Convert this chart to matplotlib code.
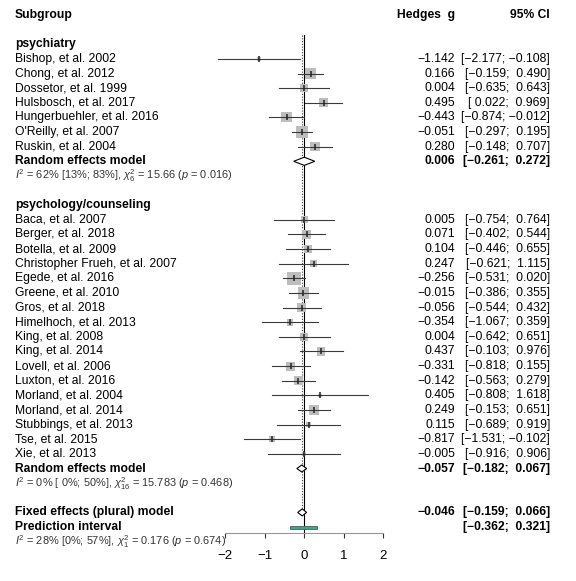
import numpy as np
import matplotlib.pyplot as plt
from matplotlib.patches import Polygon, Rectangle
from matplotlib.transforms import blended_transform_factory

plt.rcParams['font.family'] = ['Liberation Sans', 'DejaVu Sans']
plt.rcParams['mathtext.fontset'] = 'custom'
plt.rcParams['mathtext.rm'] = 'Liberation Sans'
plt.rcParams['mathtext.it'] = 'Liberation Sans:italic'

# data
psych_studies = ["Bishop, et al. 2002", "Chong, et al. 2012", "Dossetor, et al. 1999",
                 "Hulsbosch, et al. 2017", "Hungerbuehler, et al. 2016", "O'Reilly, et al. 2007",
                 "Ruskin, et al. 2004"]
psych_g = [-1.142, 0.166, 0.004, 0.495, -0.443, -0.051, 0.280]
psych_lo = [-2.177, -0.159, -0.635, 0.022, -0.874, -0.297, -0.148]
psych_hi = [-0.108, 0.490, 0.643, 0.969, -0.012, 0.195, 0.707]
psych_w = [1.1, 5.8, 3.5, 4.6, 5.8, 9.4, 5.1]

couns_studies = ["Baca, et al. 2007", "Berger, et al. 2018", "Botella, et al. 2009",
                 "Christopher Frueh, et al. 2007", "Egede, et al. 2016", "Greene, et al. 2010",
                 "Gros, et al. 2018", "Himelhoch, et al. 2013", "King, et al. 2008",
                 "King, et al. 2014", "Lovell, et al. 2006", "Luxton, et al. 2016",
                 "Morland, et al. 2004", "Morland, et al. 2014", "Stubbings, et al. 2013",
                 "Tse, et al. 2015", "Xie, et al. 2013"]
couns_g = [0.005, 0.071, 0.104, 0.247, -0.256, -0.015, -0.056, -0.354, 0.004, 0.437,
           -0.331, -0.142, 0.405, 0.249, 0.115, -0.817, -0.005]
couns_lo = [-0.754, -0.402, -0.446, -0.621, -0.531, -0.386, -0.544, -1.067, -0.642, -0.103,
            -0.818, -0.563, -0.808, -0.153, -0.689, -1.531, -0.916]
couns_hi = [0.764, 0.544, 0.655, 1.115, 0.020, 0.355, 0.432, 0.359, 0.651, 0.976,
            0.155, 0.279, 1.618, 0.651, 0.919, -0.102, 0.906]
couns_w = [2.6, 4.6, 3.5, 2.6, 10.2, 7.1, 4.6, 2.6, 3.5, 4.0, 4.6, 4.6, 0.6, 5.8, 1.8, 1.8, 1.1]

psych_re = (0.006, -0.261, 0.272)
couns_re = (-0.057, -0.182, 0.067)
fixed_all = (-0.046, -0.159, 0.066)
pred_int = (-0.362, 0.321)

psych_het = r"$I^2$ = 62% [13%; 83%], $\chi^2_6$ = 15.66 ($p$ = 0.016)"
couns_het = r"$I^2$ = 0% [ 0%; 50%], $\chi^2_{16}$ = 15.783 ($p$ = 0.468)"
all_het = r"$I^2$ = 28% [0%; 57%], $\chi^2_1$ = 0.176 ($p$ = 0.674)"

W, H = 576, 581
y0, pitch = 15, 14.63
fs = 8.7
fs_het = 7.9


def fmt(v, pad=False):
    s = f"{v:.3f}".replace("-", "\u2212")
    if pad and v >= 0:
        s = " " + s
    return s


def ci_str(lo, hi):
    return "[" + fmt(lo, True) + "; " + fmt(hi, True) + "]"


fig = plt.figure(figsize=(W / 100, H / 100), dpi=100)
ax = fig.add_axes([225 / W, 0, 158 / W, 1])
ax.set_xlim(-2, 2)
ax.set_ylim((H - y0) / pitch, -y0 / pitch)
ax.patch.set_visible(False)
for s in ['top', 'left', 'right']:
    ax.spines[s].set_visible(False)

tr = blended_transform_factory(fig.transFigure, ax.transData)


def txt(xpx, row, s, ha='left', bold=False, size=fs, color='black'):
    ax.text(xpx / W, row, s, transform=tr, ha=ha, va='center', fontsize=size,
            fontweight='bold' if bold else 'normal', color=color, clip_on=False)


# headers
txt(15, 0, "Subgroup", bold=True)
txt(455, 0, "Hedges  g", ha='right', bold=True)
txt(550, 0, "95% CI", ha='right', bold=True)

axis_row = (533 - y0) / pitch


def study_rows(start, names, g, lo, hi, w):
    rows = np.arange(start, start + len(names))
    for r, n, gi, l, h in zip(rows, names, g, lo, hi):
        txt(15, r, n)
        txt(455, r, fmt(gi), ha='right')
        txt(550, r, ci_str(l, h), ha='right')
        ax.plot([l, h], [r, r], color='#3a3a3a', lw=0.8, clip_on=False, zorder=3)
    # box side in px grows with sqrt(weight)
    side = 4.2 * np.sqrt(np.array(w)) * 0.72
    ax.scatter(g, rows, s=side ** 2, marker='s', color='#bdbdbd', linewidths=0, zorder=2,
               clip_on=False)
    ax.plot(g, rows, ls='none', marker='|', ms=4, mew=1.1, color='#222222', zorder=4,
            clip_on=False)
    return rows


def diamond(row, est, lo, hi, half, label):
    ax.add_patch(Polygon([(lo, row), (est, row - half), (hi, row), (est, row + half)],
                         closed=True, facecolor='white', edgecolor='black', lw=0.8,
                         zorder=5, clip_on=False))
    txt(15, row, label, bold=True)
    txt(455, row, fmt(est), ha='right', bold=True)
    txt(550, row, ci_str(lo, hi), ha='right', bold=True)


# group 1
txt(15, 2, "psychiatry", bold=True)
study_rows(3, psych_studies, psych_g, psych_lo, psych_hi, psych_w)
diamond(10, *psych_re, 0.28, "Random effects model")
txt(15, 11, psych_het, size=fs_het, color='#333333')

# group 2
txt(15, 13, "psychology/counseling", bold=True)
study_rows(14, couns_studies, couns_g, couns_lo, couns_hi, couns_w)
diamond(31, *couns_re, 0.24, "Random effects model")
txt(15, 32, couns_het, size=fs_het, color='#333333')

# overall
diamond(34, *fixed_all, 0.24, "Fixed effects (plural) model")
txt(15, 35, "Prediction interval", bold=True)
txt(550, 35, ci_str(*pred_int), ha='right', bold=True)
ax.add_patch(Rectangle((pred_int[0], 35 - 0.1), pred_int[1] - pred_int[0], 0.2,
                       facecolor='#4f9c88', edgecolor='#2f6e5e', lw=0.6, zorder=5,
                       clip_on=False))
txt(15, 36, all_het, size=fs_het, color='#333333')

# reference lines
top_row = (35 - y0) / pitch
ax.plot([0, 0], [top_row, axis_row], color='black', lw=0.8, zorder=1, clip_on=False)
ax.plot([fixed_all[0]] * 2, [top_row, 34], color='#444444', lw=0.8, ls=(0, (1, 1.5)),
        zorder=1, clip_on=False)

# axis
ax.spines['bottom'].set_position(('data', axis_row))
ax.spines['bottom'].set_bounds(-2, 2)
ax.spines['bottom'].set_color('#999999')
ax.spines['bottom'].set_linewidth(0.8)
ax.set_xticks([-2, -1, 0, 1, 2])
ax.set_yticks([])
ax.tick_params(axis='x', direction='out', length=3.5, width=0.8, color='#333333',
               pad=9, labelsize=9.5)

fig.savefig("out.png", dpi=100)
